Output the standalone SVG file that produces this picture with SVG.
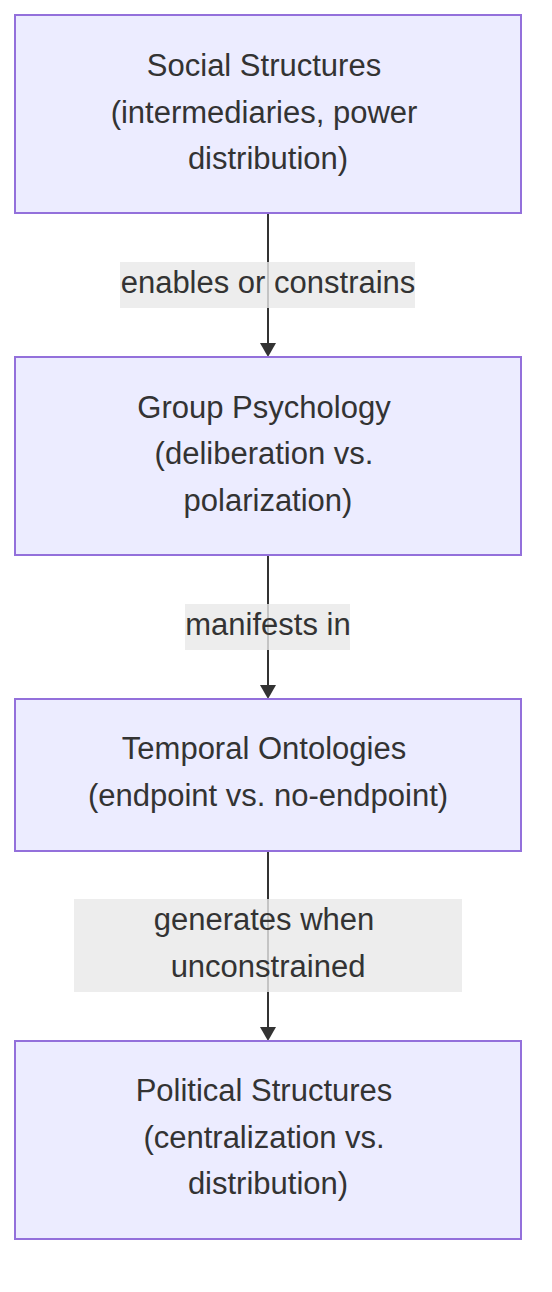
<svg xmlns="http://www.w3.org/2000/svg" width="552" height="1292" viewBox="0 0 552 1292">
<style>
.node rect{fill:#ECECFF;stroke:#9370DB;stroke-width:2}
text{font-family:"Liberation Sans",Arial,sans-serif;font-size:31px;fill:#333;text-anchor:middle}
.edge{stroke:#333;stroke-width:2;fill:none}
.lbl{fill:#e8e8e8;fill-opacity:0.8}
</style>
<rect width="552" height="1292" fill="#fff"/>
<g id="connectors">
<line class="edge" x1="268" y1="213" x2="268" y2="343"/>
<path d="M260,343 L276,343 L268,357 z" fill="#333"/>
<line class="edge" x1="268" y1="555" x2="268" y2="685"/>
<path d="M260,685 L276,685 L268,699 z" fill="#333"/>
<line class="edge" x1="268" y1="851" x2="268" y2="1027"/>
<path d="M260,1027 L276,1027 L268,1041 z" fill="#333"/>
<g id="label1"><rect class="lbl" x="120" y="262" width="295" height="46"/><text x="268" y="293">enables or constrains</text></g>
<g id="label2"><rect class="lbl" x="185" y="604" width="165" height="46"/><text x="268" y="635">manifests in</text></g>
<g id="label3"><rect class="lbl" x="74" y="899" width="388" height="93"/><text x="264" y="930">generates when</text><text x="268" y="977">unconstrained</text></g>
</g>
<g id="node1" class="node"><rect x="15" y="15" width="506" height="198"/>
<text x="264" y="76">Social Structures</text><text x="264" y="123">(intermediaries, power</text><text x="268" y="169">distribution)</text></g>
<g id="node2" class="node"><rect x="15" y="357" width="506" height="198"/>
<text x="264" y="418">Group Psychology</text><text x="264" y="464">(deliberation vs.</text><text x="268" y="511">polarization)</text></g>
<g id="node3" class="node"><rect x="15" y="699" width="506" height="152"/>
<text x="264" y="759">Temporal Ontologies</text><text x="268" y="806">(endpoint vs. no-endpoint)</text></g>
<g id="node4" class="node"><rect x="15" y="1041" width="506" height="198"/>
<text x="264" y="1101">Political Structures</text><text x="264" y="1148">(centralization vs.</text><text x="268" y="1194">distribution)</text></g>
</svg>
